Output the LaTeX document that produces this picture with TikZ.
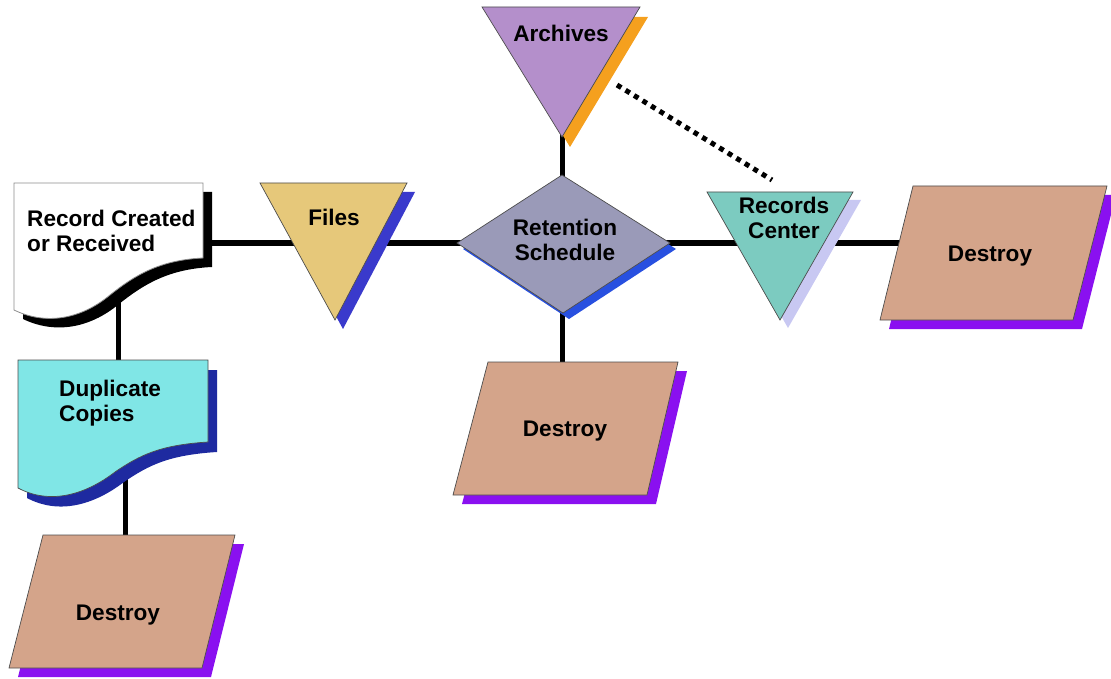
\documentclass[tikz,border=0pt]{standalone}
\usepackage{fontspec}
\setmainfont{Liberation Sans}
\definecolor{archfill}{RGB}{180,143,203}
\definecolor{archshadow}{RGB}{245,160,30}
\definecolor{filesfill}{RGB}{230,200,122}
\definecolor{filesshadow}{RGB}{58,58,204}
\definecolor{diafill}{RGB}{154,154,184}
\definecolor{diashadow}{RGB}{40,80,224}
\definecolor{rcfill}{RGB}{124,203,192}
\definecolor{rcshadow}{RGB}{200,200,242}
\definecolor{destfill}{RGB}{212,164,138}
\definecolor{destshadow}{RGB}{138,16,240}
\definecolor{dupfill}{RGB}{128,230,230}
\definecolor{dupshadow}{RGB}{30,42,160}
\begin{document}
\begin{tikzpicture}[x=1pt,y=-1pt,
  conn/.style={line width=5pt, black},
  dotconn/.style={line width=5pt, black, dash pattern=on 5pt off 5pt},
  outline/.style={draw=black!70, line width=0.7pt},
  lbl/.style={font=\bfseries\fontsize{22.6}{25}\selectfont, text=black, align=center, inner sep=0pt}]
\useasboundingbox (0,0) rectangle (1111,679);

% connection coordinates
\coordinate (recR) at (190,243);
\coordinate (recB) at (118,300);
\coordinate (dupT) at (118,375);
\coordinate (dupB) at (125,475);
\coordinate (dblT) at (125,550);
\coordinate (filesC) at (335,243);
\coordinate (diaC) at (563,243);
\coordinate (diaT) at (562,185);
\coordinate (diaB) at (562,305);
\coordinate (archA) at (562,125);
\coordinate (dmT) at (562,375);
\coordinate (rcC) at (780,243);
\coordinate (drC) at (990,243);
\coordinate (archDot) at (617,85);
\coordinate (rcDot) at (772,180);

% connectors
\draw[conn] (recR) -- (filesC);
\draw[conn] (filesC) -- (diaC);
\draw[conn] (diaC) -- (rcC);
\draw[conn] (rcC) -- (drC);
\draw[conn] (recB) -- (dupT);
\draw[conn] (dupB) -- (dblT);
\draw[conn] (diaT) -- (archA);
\draw[conn] (diaB) -- (dmT);
\draw[dotconn] (archDot) -- (rcDot);

% Record Created or Received (document)
\fill[black, shift={(9,9)}] (14,183) -- (203,183) -- (203,258)
  .. controls (160,260) and (135,275) .. (110,295)
  .. controls (80,320) and (45,325) .. (14,310) -- cycle;
\filldraw[white, draw=black!45, line width=0.8pt] (14,183) -- (203,183) -- (203,258)
  .. controls (160,260) and (135,275) .. (110,295)
  .. controls (80,320) and (45,325) .. (14,310) -- cycle;
\node[lbl, align=left, anchor=west] (rec) at (27,231) {Record Created\\or Received};

% Duplicate Copies (document)
\fill[dupshadow, shift={(9,10)}] (18,360) -- (208,360) -- (208,442)
  .. controls (160,445) and (140,455) .. (115,472)
  .. controls (85,495) and (50,505) .. (18,488) -- cycle;
\filldraw[dupfill, outline] (18,360) -- (208,360) -- (208,442)
  .. controls (160,445) and (140,455) .. (115,472)
  .. controls (85,495) and (50,505) .. (18,488) -- cycle;
\node[lbl, align=left, anchor=west] (dup) at (59,403) {Duplicate\\Copies};

% Files
\fill[filesshadow, shift={(8,9)}] (260,183) -- (407,183) -- (335,320) -- cycle;
\filldraw[filesfill, outline] (260,183) -- (407,183) -- (335,320) -- cycle;
\node[lbl] (files) at (334,217) {Files};

% Archives
\fill[archshadow, shift={(8,10)}] (482,7) -- (640,7) -- (562,137) -- cycle;
\filldraw[archfill, outline] (482,7) -- (640,7) -- (562,137) -- cycle;
\node[lbl] (arch) at (561,33) {Archives};

% Retention Schedule
\fill[diashadow, shift={(6,6)}] (457,243) -- (562,175) -- (670,243) -- (563,313) -- cycle;
\filldraw[diafill, outline] (457,243) -- (562,175) -- (670,243) -- (563,313) -- cycle;
\node[lbl] (ret) at (565,240) {Retention\\Schedule};

% Records Center
\fill[rcshadow, shift={(8,8)}] (707,192) -- (853,192) -- (780,320) -- cycle;
\filldraw[rcfill, outline] (707,192) -- (853,192) -- (780,320) -- cycle;
\node[lbl] (rc) at (784,218) {Records\\Center};

% Destroy (right)
\fill[destshadow, shift={(9,9)}] (913,186) -- (1107,186) -- (1073,320) -- (880,320) -- cycle;
\filldraw[destfill, outline] (913,186) -- (1107,186) -- (1073,320) -- (880,320) -- cycle;
\node[lbl] (dr) at (990,256) {Destroy};

% Destroy (middle)
\fill[destshadow, shift={(9,9)}] (488,362) -- (678,362) -- (647,495) -- (453,495) -- cycle;
\filldraw[destfill, outline] (488,362) -- (678,362) -- (647,495) -- (453,495) -- cycle;
\node[lbl] (dm) at (565,431) {Destroy};

% Destroy (bottom left)
\fill[destshadow, shift={(9,9)}] (43,535) -- (235,535) -- (202,668) -- (9,668) -- cycle;
\filldraw[destfill, outline] (43,535) -- (235,535) -- (202,668) -- (9,668) -- cycle;
\node[lbl] (dbl) at (118,615) {Destroy};
\end{tikzpicture}
\end{document}
